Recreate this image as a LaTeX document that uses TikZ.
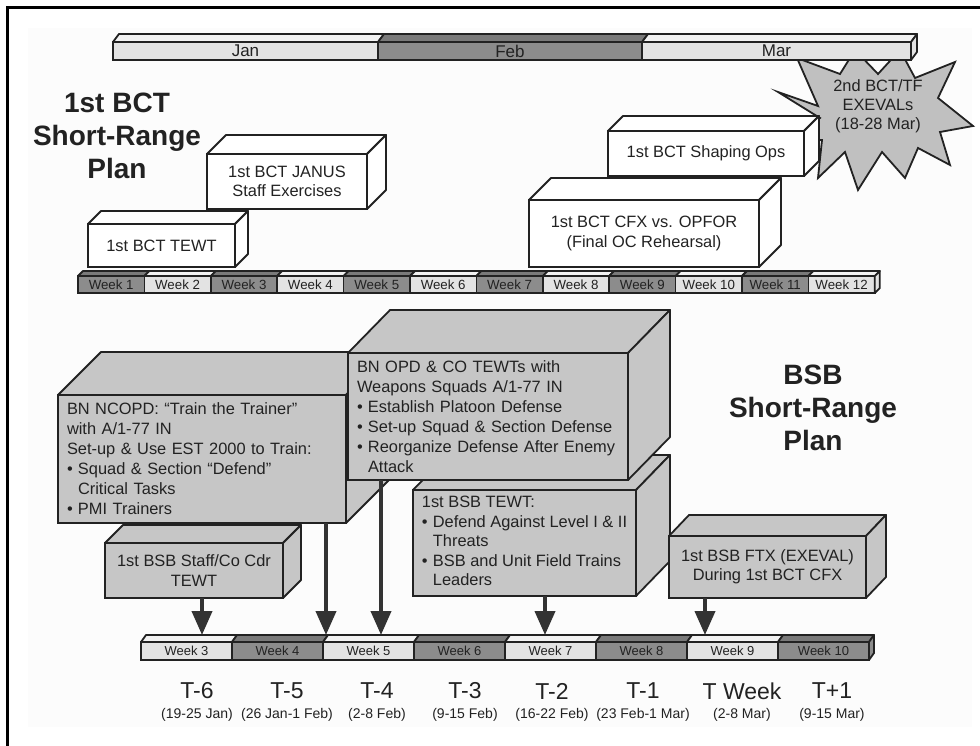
\documentclass[tikz,border=0pt]{standalone}
\usepackage{fontspec}
\setmainfont{Liberation Sans}
\usetikzlibrary{arrows.meta, positioning, calc}

\definecolor{planInk}{HTML}{222222}
\definecolor{planDark}{HTML}{8C8C8C}
\definecolor{planDarkTop}{HTML}{7A7A7A}
\definecolor{planLight}{HTML}{E3E3E3}
\definecolor{planLightTop}{HTML}{F2F2F2}
\definecolor{planBox}{HTML}{C6C6C6}
\definecolor{planStar}{HTML}{C0C0C0}
\definecolor{planArrow}{HTML}{333333}

% faces of a block: node, dx, dy, fill
\newcommand{\topface}[4]{%
  \filldraw[boxface, fill=#4] (#1.north west) -- ++(#2,-#3)
    -- ([shift={(#2,-#3)}]#1.north east) -- (#1.north east) -- cycle;}
\newcommand{\sideface}[4]{%
  \filldraw[boxface, fill=#4] (#1.north east) -- ++(#2,-#3)
    -- ([shift={(#2,-#3)}]#1.south east) -- (#1.south east) -- cycle;}
\newcommand{\itm}{\makebox[11pt][l]{\textbullet}}
\newcommand{\cnt}{\makebox[11pt]{}}

\begin{document}
\begin{tikzpicture}[
    x=1pt, y=-1pt,
    every node/.style={text=planInk},
    boxface/.style={draw=planInk, line width=1.8pt, line join=round},
    block/.style={
      draw=planInk,
      line width=1.8pt,
      outer sep=0pt,
      inner sep=0pt,
      align=center,
      font=\fontsize{16.4}{19.5}\selectfont,
    },
    wbox/.style={block, fill=white},
    gbox/.style={block, fill=planBox},
    listbox/.style={gbox, align=left, inner xsep=9pt},
    cell/.style={
      draw=planInk,
      line width=1.6pt,
      outer sep=0pt,
      inner sep=0pt,
      minimum height=17pt,
      font=\fontsize{13.3}{15}\selectfont,
    },
    planTitle/.style={font=\fontsize{28}{33}\selectfont\bfseries, align=center},
    tlab/.style={font=\fontsize{23}{25}\selectfont},
    dlab/.style={font=\fontsize{14}{15}\selectfont},
    arr/.style={-{Triangle[length=24pt, width=20pt]}, planArrow, line width=4pt},
  ]
    \useasboundingbox (0,0) rectangle (980,746);
    \fill[gray!2] (28,28) rectangle (972,727);
    \draw[line width=3pt] (7.5,746) -- (7.5,7.5) -- (980,7.5);

    % 2nd BCT starburst
    \filldraw[boxface, fill=planStar, line join=miter]
      (778,92) -- (818,106) -- (797,58) -- (840,74) -- (855,50) -- (878,74)
      -- (900,50) -- (915,78) -- (955,62) -- (938,98) -- (973,126) -- (940,132)
      -- (950,165) -- (918,148) -- (905,178) -- (882,152) -- (858,190)
      -- (845,152) -- (818,178) -- (822,140) -- (792,140) -- (820,118) -- cycle;
    \node[font=\fontsize{16.4}{19}\selectfont, align=center] (exeval) at (878,106)
      {2nd BCT/TF\\EXEVALs\\(18-28 Mar)};

    % months
    \node[cell, fill=planLight, minimum width=265pt, minimum height=18pt,
      font=\fontsize{17}{18}\selectfont] (jan) at (245.5,51) {Jan};
    \node[cell, fill=planDark, minimum width=264pt, minimum height=18pt,
      font=\fontsize{17}{18}\selectfont, right=0pt of jan] (feb) {Feb};
    \node[cell, fill=planLight, minimum width=269pt, minimum height=18pt,
      font=\fontsize{17}{18}\selectfont, right=0pt of feb] (mar) {Mar};
    \topface{jan}{6}{8}{planLightTop}
    \topface{feb}{6}{8}{planDarkTop}
    \topface{mar}{6}{8}{planLightTop}
    \sideface{mar}{6}{8}{planLight}

    \node[planTitle] (bctTitle) at (117,136) {1st BCT\\Short-Range\\Plan};
    \node[planTitle] (bsbTitle) at (813,408) {BSB\\Short-Range\\Plan};

    % 1st BCT events
    \node[wbox, minimum width=147pt, minimum height=43pt] (bctTewt) at (161.5,245.5)
      {1st BCT TEWT};
    \topface{bctTewt}{13}{13}{white}
    \sideface{bctTewt}{13}{13}{white}
    \node[wbox, minimum width=160pt, minimum height=55pt] (janus) at (287,181.5)
      {1st BCT JANUS\\Staff Exercises};
    \topface{janus}{19}{19}{white}
    \sideface{janus}{19}{19}{white}
    \node[wbox, minimum width=196pt, minimum height=45pt] (shaping) at (706,153.5)
      {1st BCT Shaping Ops};
    \topface{shaping}{15}{15}{white}
    \sideface{shaping}{15}{15}{white}
    \node[wbox, minimum width=230pt, minimum height=67pt] (cfx) at (644,233.5)
      {1st BCT CFX vs. OPFOR\\(Final OC Rehearsal)};
    \topface{cfx}{22}{22}{white}
    \sideface{cfx}{22}{22}{white}

    % weeks 1-12
    \foreach \i in {1,...,12}{
      \ifodd\i\relax \def\cf{planDark}\def\tf{planDarkTop}
      \else \def\cf{planLight}\def\tf{planLightTop}\fi
      \node[cell, fill=\cf, minimum width=66.4pt] (tw\i) at ({78+(\i-0.5)*66.4},284.5) {Week \i};
      \topface{tw\i}{5}{5}{\tf}
    }
    \sideface{tw12}{5}{5}{planLight}

    % BSB events
    \node[gbox, minimum width=223pt, minimum height=106pt] (bsbTewt) at (524.5,543)
      {\begin{tabular}{@{}l@{}l@{}}
         \multicolumn{2}{@{}l@{}}{1st BSB TEWT:}\\
         \itm & Defend Against Level I \& II\\
              & Threats\\
         \itm & BSB and Unit Field Trains\\
              & Leaders
       \end{tabular}};
    \topface{bsbTewt}{34}{35}{planBox}
    \sideface{bsbTewt}{34}{35}{planBox}
    \node[listbox, minimum width=288pt, minimum height=128pt, text width=270pt,
      font=\fontsize{16.4}{20}\selectfont] (ncopd) at (202,459)
      {BN NCOPD: “Train the Trainer”\\
       with A/1-77 IN\\
       Set-up \& Use EST 2000 to Train:\\
       \itm Squad \& Section “Defend”\\
       \cnt Critical Tasks\\
       \itm PMI Trainers};
    \topface{ncopd}{43}{43}{planBox}
    \sideface{ncopd}{43}{43}{planBox}
    \node[listbox, minimum width=280pt, minimum height=127pt, text width=262pt,
      font=\fontsize{16.4}{20}\selectfont] (opd) at (488,416.5)
      {BN OPD \& CO TEWTs with\\
       Weapons Squads A/1-77 IN\\
       \itm Establish Platoon Defense\\
       \itm Set-up Squad \& Section Defense\\
       \itm Reorganize Defense After Enemy\\
       \cnt Attack};
    \topface{opd}{42}{43}{planBox}
    \sideface{opd}{42}{43}{planBox}
    \node[gbox, minimum width=178pt, minimum height=55pt] (staff) at (194,570.5)
      {1st BSB Staff/Co Cdr\\TEWT};
    \topface{staff}{18}{18}{planBox}
    \sideface{staff}{18}{18}{planBox}
    \node[gbox, minimum width=197pt, minimum height=62pt] (ftx) at (767.5,567)
      {1st BSB FTX (EXEVAL)\\During 1st BCT CFX};
    \topface{ftx}{20}{21}{planBox}
    \sideface{ftx}{20}{21}{planBox}

    % weeks 3-10
    \foreach \i in {3,...,10}{
      \ifodd\i\relax \def\cf{planLight}\def\tf{planLightTop}
      \else \def\cf{planDark}\def\tf{planDarkTop}\fi
      \node[cell, fill=\cf, minimum width=91pt, minimum height=18pt,
        font=\fontsize{13}{14}\selectfont] (bw\i) at ({141+(\i-2.5)*91},651) {Week \i};
      \topface{bw\i}{5}{7}{\tf}
    }
    \sideface{bw10}{5}{7}{planDark}
    \coordinate (bartop) at ($(bw3.north west)+(0,-7)$);

    \draw[arr] ([xshift=8pt]staff.south) -- ([xshift=8pt]staff.south |- bartop);
    \draw[arr] ([xshift=-20pt]ncopd.south east) -- ([xshift=-20pt]ncopd.south east |- bartop);
    \draw[arr] ([xshift=33pt]opd.south west) -- ([xshift=33pt]opd.south west |- bartop);
    \draw[arr] ([xshift=20.5pt]bsbTewt.south) -- ([xshift=20.5pt]bsbTewt.south |- bartop);
    \draw[arr] ([xshift=36pt]ftx.south west) -- ([xshift=36pt]ftx.south west |- bartop);

    % T-week labels
    \foreach \k/\xx/\tl/\dt in {3/197/T-6/(19-25 Jan), 4/287/T-5/(26 Jan-1 Feb),
        5/377/T-4/(2-8 Feb), 6/465/T-3/(9-15 Feb), 7/552/T-2/(16-22 Feb),
        8/643/T-1/(23 Feb-1 Mar), 9/742/T Week/(2-8 Mar), 10/832/T+1/(9-15 Mar)}{
      \node[tlab] (t\k) at (\xx,691) {\tl};
      \node[dlab] (d\k) at (\xx,715) {\dt};
    }
  \end{tikzpicture}
\end{document}
